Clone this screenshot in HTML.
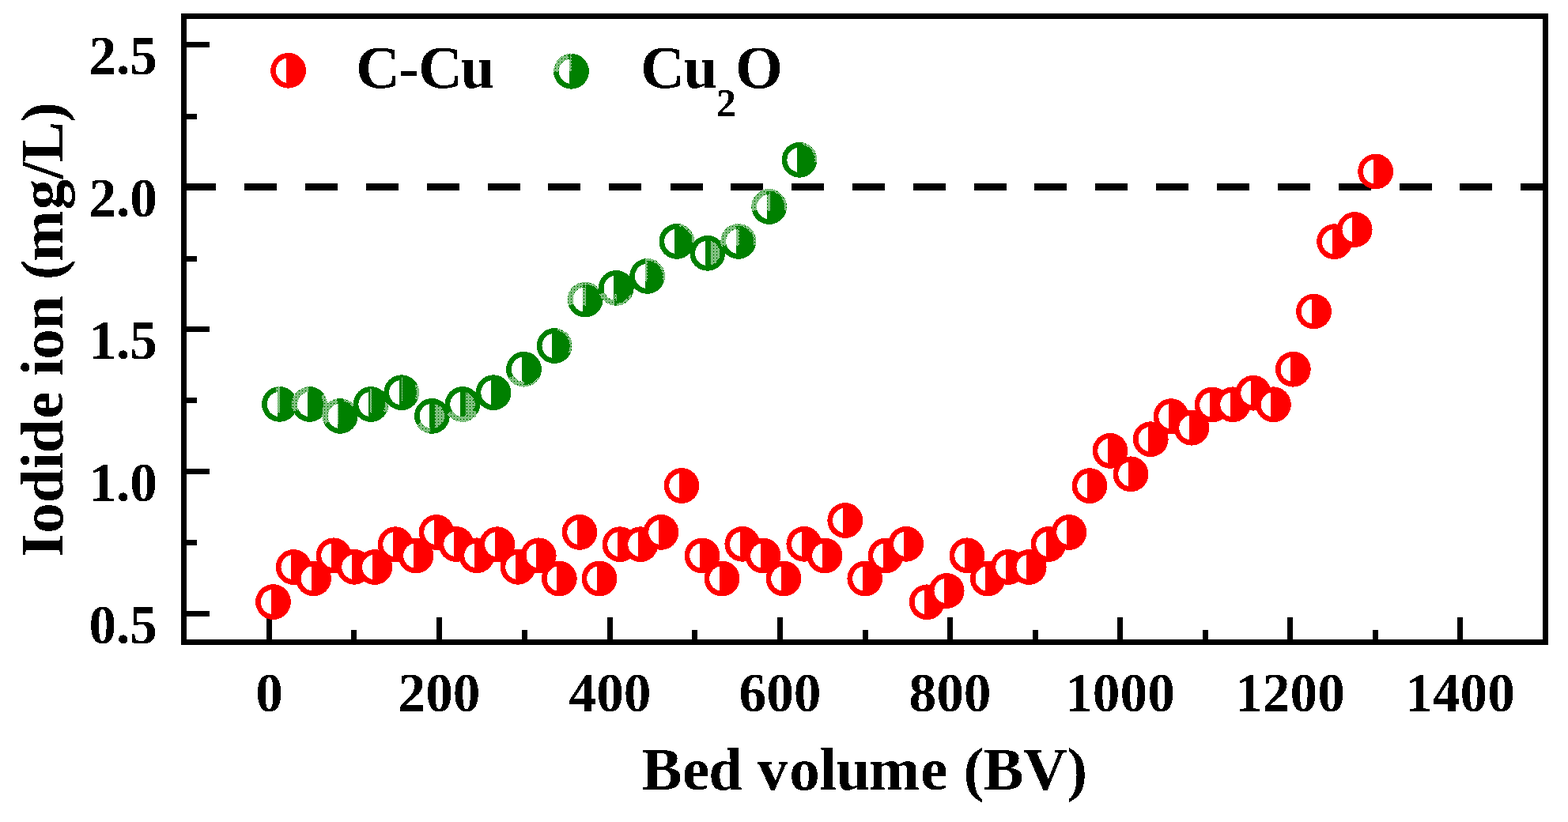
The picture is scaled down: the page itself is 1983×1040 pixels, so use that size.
<!DOCTYPE html>
<html><head><meta charset="utf-8"><title>Iodide ion vs Bed volume</title>
<style>html,body{margin:0;padding:0;background:#fff;}svg{display:block;}</style>
</head><body>
<svg width="1983" height="1040" viewBox="0 0 1983 1040">
<defs><filter id="bin" x="-5%" y="-5%" width="110%" height="110%" color-interpolation-filters="sRGB"><feComponentTransfer><feFuncA type="discrete" tableValues="0 1"/></feComponentTransfer></filter><pattern id="dith" patternUnits="userSpaceOnUse" x="0" y="0" width="4" height="4"><rect x="0" y="0" width="1" height="1" fill="#fff"/><rect x="2" y="0" width="1" height="1" fill="#fff"/><rect x="1" y="1" width="1" height="1" fill="#fff"/><rect x="3" y="1" width="1" height="1" fill="#fff"/><rect x="0" y="2" width="1" height="1" fill="#fff"/><rect x="1" y="3" width="1" height="1" fill="#fff"/><rect x="3" y="3" width="1" height="1" fill="#fff"/></pattern></defs>
<rect width="1983" height="1040" fill="#fff"/>
<g fill="#000" shape-rendering="crispEdges">
<rect x="236" y="53.0" width="29" height="7"/><rect x="236" y="233.0" width="29" height="7"/><rect x="236" y="413.0" width="29" height="7"/><rect x="236" y="593.0" width="29" height="7"/><rect x="236" y="773.0" width="29" height="7"/><rect x="236" y="144.0" width="13" height="7"/><rect x="236" y="324.0" width="13" height="7"/><rect x="236" y="503.0" width="13" height="7"/><rect x="236" y="683.0" width="13" height="7"/><rect x="337" y="781" width="7" height="28"/><rect x="552" y="781" width="7" height="28"/><rect x="768" y="781" width="7" height="28"/><rect x="983" y="781" width="7" height="28"/><rect x="1198" y="781" width="7" height="28"/><rect x="1413" y="781" width="7" height="28"/><rect x="1628" y="781" width="7" height="28"/><rect x="1843" y="781" width="7" height="28"/><rect x="444" y="797" width="7" height="12"/><rect x="660" y="797" width="7" height="12"/><rect x="875" y="797" width="7" height="12"/><rect x="1091" y="797" width="7" height="12"/><rect x="1306" y="797" width="7" height="12"/><rect x="1521" y="797" width="7" height="12"/><rect x="1736" y="797" width="7" height="12"/>
</g>
<g fill="#000" shape-rendering="crispEdges"><rect x="232" y="232" width="41" height="9"/><rect x="309" y="232" width="41" height="9"/><rect x="386" y="232" width="41" height="9"/><rect x="463" y="232" width="41" height="9"/><rect x="540" y="232" width="41" height="9"/><rect x="617" y="232" width="41" height="9"/><rect x="693" y="232" width="41" height="9"/><rect x="770" y="232" width="41" height="9"/><rect x="848" y="232" width="41" height="9"/><rect x="924" y="232" width="41" height="9"/><rect x="1001" y="232" width="41" height="9"/><rect x="1078" y="232" width="41" height="9"/><rect x="1155" y="232" width="41" height="9"/><rect x="1232" y="232" width="41" height="9"/><rect x="1308" y="232" width="41" height="9"/><rect x="1385" y="232" width="41" height="9"/><rect x="1462" y="232" width="41" height="9"/><rect x="1539" y="232" width="41" height="9"/><rect x="1616" y="232" width="41" height="9"/><rect x="1693" y="232" width="41" height="9"/><rect x="1770" y="232" width="41" height="9"/><rect x="1846" y="232" width="41" height="9"/><rect x="1923" y="232" width="31" height="9"/></g>
<rect x="232.5" y="20.5" width="1722.0" height="792.0" fill="none" stroke="#000" stroke-width="7" shape-rendering="crispEdges"/>
<g shape-rendering="crispEdges">
<circle cx="353.5" cy="511.4" r="22.4" fill="#008000"/><path d="M350.50 495.99A15.7 15.7 0 0 0 350.50 526.81Z" fill="#fff"/><path d="M349.00 488.80H354.00V522.00H349.00Z" fill="url(#dith)"/><circle cx="391.6" cy="511.5" r="22.4" fill="#008000"/><path d="M388.60 496.09A15.7 15.7 0 0 0 388.60 526.91Z" fill="#fff"/><path d="M389.61 488.79A22.8 22.8 0 0 0 370.94 521.14L377.82 517.92A15.2 15.2 0 0 1 390.28 496.36ZM412.26 521.14A22.8 22.8 0 0 0 410.05 498.10L405.76 501.21A17.5 17.5 0 0 1 407.46 518.90ZM388.00 497.50H389.20V525.70H388.00Z" fill="url(#dith)"/><circle cx="430.2" cy="526.4" r="22.4" fill="#008000"/><path d="M427.20 510.99A15.7 15.7 0 0 0 427.20 541.81Z" fill="#fff"/><path d="M426.24 503.95A22.8 22.8 0 0 0 409.89 536.75L416.66 533.30A15.2 15.2 0 0 1 427.56 511.43ZM447.67 511.74A22.8 22.8 0 0 0 434.16 503.95L433.59 507.20A19.5 19.5 0 0 1 445.14 513.87ZM426.90 511.00H428.00V537.40H426.90Z" fill="url(#dith)"/><circle cx="469.1" cy="511.5" r="22.4" fill="#008000"/><path d="M466.10 496.09A15.7 15.7 0 0 0 466.10 526.91Z" fill="#fff"/><path d="M468.40 492.00H469.60V522.00H468.40ZM489.23 522.20A22.8 22.8 0 0 0 491.68 508.33L486.92 508.99A18 18 0 0 1 484.99 519.95Z" fill="url(#dith)"/><circle cx="507.8" cy="496.7" r="22.4" fill="#008000"/><path d="M504.80 481.29A15.7 15.7 0 0 0 504.80 512.11Z" fill="#fff"/><path d="M507.50 477.00H508.70V507.00H507.50ZM528.63 505.97A22.8 22.8 0 0 0 527.55 485.30L524.25 487.20A19 19 0 0 1 525.16 504.43Z" fill="url(#dith)"/><circle cx="546.4" cy="526.4" r="22.4" fill="#008000"/><path d="M543.40 510.99A15.7 15.7 0 0 0 543.40 541.81Z" fill="#fff"/><path d="M549.70 511.05A15.7 15.7 0 0 1 549.70 541.75ZM526.65 537.80A22.8 22.8 0 0 0 543.23 548.98L544.28 541.45A15.2 15.2 0 0 1 533.24 534.00Z" fill="url(#dith)"/><circle cx="585.0" cy="511.5" r="22.4" fill="#008000"/><path d="M582.00 496.09A15.7 15.7 0 0 0 582.00 526.91Z" fill="#fff"/><path d="M589.00 496.32A15.7 15.7 0 0 1 589.00 526.68ZM565.66 523.58A22.8 22.8 0 0 0 604.75 522.90L598.16 519.10A15.2 15.2 0 0 1 572.11 519.55Z" fill="url(#dith)"/><circle cx="624.0" cy="496.7" r="22.4" fill="#008000"/><path d="M621.00 481.29A15.7 15.7 0 0 0 621.00 512.11Z" fill="#fff"/><circle cx="662.5" cy="467.3" r="22.4" fill="#008000"/><path d="M659.50 451.89A15.7 15.7 0 0 0 659.50 482.71Z" fill="#fff"/><path d="M642.75 478.70A22.8 22.8 0 0 0 663.30 490.09L663.03 482.49A15.2 15.2 0 0 1 649.34 474.90ZM663.30 490.09A22.8 22.8 0 0 0 682.25 478.70L679.82 477.30A20 20 0 0 1 663.20 487.29Z" fill="url(#dith)"/><circle cx="701.2" cy="437.5" r="22.4" fill="#008000"/><path d="M698.20 422.09A15.7 15.7 0 0 0 698.20 452.91Z" fill="#fff"/><path d="M721.86 447.14A22.8 22.8 0 0 0 705.16 415.05L704.59 418.30A19.5 19.5 0 0 1 718.87 445.74Z" fill="url(#dith)"/><circle cx="740.2" cy="379.1" r="22.4" fill="#008000"/><path d="M737.20 363.69A15.7 15.7 0 0 0 737.20 394.51Z" fill="#fff"/><path d="M740.20 356.30A22.8 22.8 0 0 0 718.78 386.90L725.92 384.30A15.2 15.2 0 0 1 740.20 363.90ZM758.17 365.06A22.8 22.8 0 0 0 740.20 356.30L740.20 359.60A19.5 19.5 0 0 1 755.57 367.09ZM736.50 360.40H740.60V386.60H736.50Z" fill="url(#dith)"/><circle cx="779.3" cy="364.4" r="22.4" fill="#008000"/><path d="M776.30 348.99A15.7 15.7 0 0 0 776.30 379.81Z" fill="#fff"/><path d="M757.88 372.20A22.8 22.8 0 0 0 780.10 387.19L779.83 379.59A15.2 15.2 0 0 1 765.02 369.60ZM780.10 387.19A22.8 22.8 0 0 0 800.13 373.67L797.11 372.33A19.5 19.5 0 0 1 779.98 383.89ZM777.30 372.00H780.00V386.60H777.30Z" fill="url(#dith)"/><circle cx="818.6" cy="349.4" r="22.4" fill="#008000"/><path d="M815.60 333.99A15.7 15.7 0 0 0 815.60 364.81Z" fill="#fff"/><path d="M815.80 326.90H819.10V356.30H815.80ZM840.40 356.07A22.8 22.8 0 0 0 819.40 326.61L819.28 329.91A19.5 19.5 0 0 1 837.25 355.10Z" fill="url(#dith)"/><circle cx="855.9" cy="305.4" r="22.4" fill="#008000"/><path d="M852.90 289.99A15.7 15.7 0 0 0 852.90 320.81Z" fill="#fff"/><path d="M878.61 307.39A22.8 22.8 0 0 0 859.86 282.95L859.29 286.20A19.5 19.5 0 0 1 875.33 307.10Z" fill="url(#dith)"/><circle cx="894.8" cy="320.3" r="22.4" fill="#008000"/><path d="M891.80 304.89A15.7 15.7 0 0 0 891.80 335.71Z" fill="#fff"/><path d="M898.70 305.09A15.7 15.7 0 0 1 898.70 335.51Z" fill="url(#dith)"/><circle cx="933.8" cy="305.4" r="22.4" fill="#008000"/><path d="M930.80 289.99A15.7 15.7 0 0 0 930.80 320.81Z" fill="#fff"/><path d="M933.80 282.60A22.8 22.8 0 0 0 912.00 312.07L919.26 309.84A15.2 15.2 0 0 1 933.80 290.20ZM931.00 286.00H935.00V311.00H931.00ZM955.92 310.92A22.8 22.8 0 0 0 934.99 282.63L934.82 285.93A19.5 19.5 0 0 1 952.72 310.12Z" fill="url(#dith)"/><circle cx="972.7" cy="261.5" r="22.4" fill="#008000"/><path d="M969.70 246.09A15.7 15.7 0 0 0 969.70 276.91Z" fill="#fff"/><path d="M972.70 238.70A22.8 22.8 0 0 0 950.68 267.40L958.02 265.43A15.2 15.2 0 0 1 972.70 246.30ZM969.30 241.50H974.30V266.80H969.30ZM994.82 267.02A22.8 22.8 0 0 0 973.50 238.71L973.38 242.01A19.5 19.5 0 0 1 991.62 266.22Z" fill="url(#dith)"/><circle cx="1011.1" cy="202.3" r="22.4" fill="#008000"/><path d="M1008.10 186.89A15.7 15.7 0 0 0 1008.10 217.71Z" fill="#fff"/><path d="M1033.73 205.08A22.8 22.8 0 0 0 1014.67 179.78L1014.15 183.04A19.5 19.5 0 0 1 1030.45 204.68Z" fill="url(#dith)"/>
<circle cx="345.5" cy="761.6" r="22.4" fill="#ff0000"/><path d="M342.50 746.19A15.7 15.7 0 0 0 342.50 777.01Z" fill="#fff"/><circle cx="371.2" cy="717.5" r="22.4" fill="#ff0000"/><path d="M368.20 702.09A15.7 15.7 0 0 0 368.20 732.91Z" fill="#fff"/><circle cx="396.5" cy="732.0" r="22.4" fill="#ff0000"/><path d="M393.50 716.59A15.7 15.7 0 0 0 393.50 747.41Z" fill="#fff"/><circle cx="422.0" cy="702.8" r="22.4" fill="#ff0000"/><path d="M419.00 687.39A15.7 15.7 0 0 0 419.00 718.21Z" fill="#fff"/><circle cx="448.0" cy="717.3" r="22.4" fill="#ff0000"/><path d="M445.00 701.89A15.7 15.7 0 0 0 445.00 732.71Z" fill="#fff"/><circle cx="473.8" cy="717.5" r="22.4" fill="#ff0000"/><path d="M470.80 702.09A15.7 15.7 0 0 0 470.80 732.91Z" fill="#fff"/><circle cx="500.0" cy="688.7" r="22.4" fill="#ff0000"/><path d="M497.00 673.29A15.7 15.7 0 0 0 497.00 704.11Z" fill="#fff"/><circle cx="526.0" cy="703.0" r="22.4" fill="#ff0000"/><path d="M523.00 687.59A15.7 15.7 0 0 0 523.00 718.41Z" fill="#fff"/><circle cx="552.0" cy="673.5" r="22.4" fill="#ff0000"/><path d="M549.00 658.09A15.7 15.7 0 0 0 549.00 688.91Z" fill="#fff"/><circle cx="577.0" cy="688.5" r="22.4" fill="#ff0000"/><path d="M574.00 673.09A15.7 15.7 0 0 0 574.00 703.91Z" fill="#fff"/><circle cx="603.0" cy="702.8" r="22.4" fill="#ff0000"/><path d="M600.00 687.39A15.7 15.7 0 0 0 600.00 718.21Z" fill="#fff"/><circle cx="628.8" cy="688.7" r="22.4" fill="#ff0000"/><path d="M625.80 673.29A15.7 15.7 0 0 0 625.80 704.11Z" fill="#fff"/><circle cx="655.0" cy="717.3" r="22.4" fill="#ff0000"/><path d="M652.00 701.89A15.7 15.7 0 0 0 652.00 732.71Z" fill="#fff"/><circle cx="681.2" cy="702.8" r="22.4" fill="#ff0000"/><path d="M678.20 687.39A15.7 15.7 0 0 0 678.20 718.21Z" fill="#fff"/><circle cx="707.3" cy="732.0" r="22.4" fill="#ff0000"/><path d="M704.30 716.59A15.7 15.7 0 0 0 704.30 747.41Z" fill="#fff"/><circle cx="733.0" cy="673.4" r="22.4" fill="#ff0000"/><path d="M730.00 657.99A15.7 15.7 0 0 0 730.00 688.81Z" fill="#fff"/><circle cx="758.0" cy="732.0" r="22.4" fill="#ff0000"/><path d="M755.00 716.59A15.7 15.7 0 0 0 755.00 747.41Z" fill="#fff"/><circle cx="784.0" cy="688.7" r="22.4" fill="#ff0000"/><path d="M781.00 673.29A15.7 15.7 0 0 0 781.00 704.11Z" fill="#fff"/><circle cx="810.0" cy="688.7" r="22.4" fill="#ff0000"/><path d="M807.00 673.29A15.7 15.7 0 0 0 807.00 704.11Z" fill="#fff"/><circle cx="836.0" cy="673.4" r="22.4" fill="#ff0000"/><path d="M833.00 657.99A15.7 15.7 0 0 0 833.00 688.81Z" fill="#fff"/><circle cx="862.0" cy="614.5" r="22.4" fill="#ff0000"/><path d="M859.00 599.09A15.7 15.7 0 0 0 859.00 629.91Z" fill="#fff"/><circle cx="888.0" cy="703.0" r="22.4" fill="#ff0000"/><path d="M885.00 687.59A15.7 15.7 0 0 0 885.00 718.41Z" fill="#fff"/><circle cx="913.0" cy="732.0" r="22.4" fill="#ff0000"/><path d="M910.00 716.59A15.7 15.7 0 0 0 910.00 747.41Z" fill="#fff"/><circle cx="938.8" cy="688.3" r="22.4" fill="#ff0000"/><path d="M935.80 672.89A15.7 15.7 0 0 0 935.80 703.71Z" fill="#fff"/><circle cx="965.0" cy="703.0" r="22.4" fill="#ff0000"/><path d="M962.00 687.59A15.7 15.7 0 0 0 962.00 718.41Z" fill="#fff"/><circle cx="991.0" cy="732.0" r="22.4" fill="#ff0000"/><path d="M988.00 716.59A15.7 15.7 0 0 0 988.00 747.41Z" fill="#fff"/><circle cx="1016.8" cy="688.3" r="22.4" fill="#ff0000"/><path d="M1013.80 672.89A15.7 15.7 0 0 0 1013.80 703.71Z" fill="#fff"/><circle cx="1043.0" cy="703.0" r="22.4" fill="#ff0000"/><path d="M1040.00 687.59A15.7 15.7 0 0 0 1040.00 718.41Z" fill="#fff"/><circle cx="1068.8" cy="658.5" r="22.4" fill="#ff0000"/><path d="M1065.80 643.09A15.7 15.7 0 0 0 1065.80 673.91Z" fill="#fff"/><circle cx="1093.8" cy="732.0" r="22.4" fill="#ff0000"/><path d="M1090.80 716.59A15.7 15.7 0 0 0 1090.80 747.41Z" fill="#fff"/><circle cx="1120.0" cy="703.0" r="22.4" fill="#ff0000"/><path d="M1117.00 687.59A15.7 15.7 0 0 0 1117.00 718.41Z" fill="#fff"/><circle cx="1145.8" cy="688.3" r="22.4" fill="#ff0000"/><path d="M1142.80 672.89A15.7 15.7 0 0 0 1142.80 703.71Z" fill="#fff"/><circle cx="1172.2" cy="761.8" r="22.4" fill="#ff0000"/><path d="M1169.20 746.39A15.7 15.7 0 0 0 1169.20 777.21Z" fill="#fff"/><circle cx="1197.2" cy="747.5" r="22.4" fill="#ff0000"/><path d="M1194.20 732.09A15.7 15.7 0 0 0 1194.20 762.91Z" fill="#fff"/><circle cx="1223.0" cy="702.8" r="22.4" fill="#ff0000"/><path d="M1220.00 687.39A15.7 15.7 0 0 0 1220.00 718.21Z" fill="#fff"/><circle cx="1249.2" cy="732.0" r="22.4" fill="#ff0000"/><path d="M1246.20 716.59A15.7 15.7 0 0 0 1246.20 747.41Z" fill="#fff"/><circle cx="1275.0" cy="717.5" r="22.4" fill="#ff0000"/><path d="M1272.00 702.09A15.7 15.7 0 0 0 1272.00 732.91Z" fill="#fff"/><circle cx="1301.2" cy="717.5" r="22.4" fill="#ff0000"/><path d="M1298.20 702.09A15.7 15.7 0 0 0 1298.20 732.91Z" fill="#fff"/><circle cx="1326.0" cy="688.5" r="22.4" fill="#ff0000"/><path d="M1323.00 673.09A15.7 15.7 0 0 0 1323.00 703.91Z" fill="#fff"/><circle cx="1352.0" cy="673.5" r="22.4" fill="#ff0000"/><path d="M1349.00 658.09A15.7 15.7 0 0 0 1349.00 688.91Z" fill="#fff"/><circle cx="1378.0" cy="614.6" r="22.4" fill="#ff0000"/><path d="M1375.00 599.19A15.7 15.7 0 0 0 1375.00 630.01Z" fill="#fff"/><circle cx="1404.0" cy="570.4" r="22.4" fill="#ff0000"/><path d="M1401.00 554.99A15.7 15.7 0 0 0 1401.00 585.81Z" fill="#fff"/><circle cx="1430.0" cy="599.8" r="22.4" fill="#ff0000"/><path d="M1427.00 584.39A15.7 15.7 0 0 0 1427.00 615.21Z" fill="#fff"/><circle cx="1455.2" cy="555.7" r="22.4" fill="#ff0000"/><path d="M1452.20 540.29A15.7 15.7 0 0 0 1452.20 571.11Z" fill="#fff"/><circle cx="1481.0" cy="526.6" r="22.4" fill="#ff0000"/><path d="M1478.00 511.19A15.7 15.7 0 0 0 1478.00 542.01Z" fill="#fff"/><circle cx="1507.0" cy="541.2" r="22.4" fill="#ff0000"/><path d="M1504.00 525.79A15.7 15.7 0 0 0 1504.00 556.61Z" fill="#fff"/><circle cx="1533.0" cy="512.0" r="22.4" fill="#ff0000"/><path d="M1530.00 496.59A15.7 15.7 0 0 0 1530.00 527.41Z" fill="#fff"/><circle cx="1559.0" cy="511.8" r="22.4" fill="#ff0000"/><path d="M1556.00 496.39A15.7 15.7 0 0 0 1556.00 527.21Z" fill="#fff"/><circle cx="1585.0" cy="497.2" r="22.4" fill="#ff0000"/><path d="M1582.00 481.79A15.7 15.7 0 0 0 1582.00 512.61Z" fill="#fff"/><circle cx="1610.4" cy="511.8" r="22.4" fill="#ff0000"/><path d="M1607.40 496.39A15.7 15.7 0 0 0 1607.40 527.21Z" fill="#fff"/><circle cx="1635.3" cy="467.2" r="22.4" fill="#ff0000"/><path d="M1632.30 451.79A15.7 15.7 0 0 0 1632.30 482.61Z" fill="#fff"/><circle cx="1661.5" cy="394.0" r="22.4" fill="#ff0000"/><path d="M1658.50 378.59A15.7 15.7 0 0 0 1658.50 409.41Z" fill="#fff"/><circle cx="1687.6" cy="305.7" r="22.4" fill="#ff0000"/><path d="M1684.60 290.29A15.7 15.7 0 0 0 1684.60 321.11Z" fill="#fff"/><circle cx="1713.2" cy="290.5" r="22.4" fill="#ff0000"/><path d="M1710.20 275.09A15.7 15.7 0 0 0 1710.20 305.91Z" fill="#fff"/><circle cx="1739.6" cy="217.0" r="22.4" fill="#ff0000"/><path d="M1736.60 201.59A15.7 15.7 0 0 0 1736.60 232.41Z" fill="#fff"/>
</g>
<g shape-rendering="crispEdges"><circle cx="364.6" cy="89.3" r="22.4" fill="#ff0000"/><path d="M361.60 73.89A15.7 15.7 0 0 0 361.60 104.71Z" fill="#fff"/>
<circle cx="722.5" cy="90.3" r="22.4" fill="#008000"/><path d="M719.50 74.89A15.7 15.7 0 0 0 719.50 105.71Z" fill="#fff"/><path d="M720.51 67.59A22.8 22.8 0 0 0 699.71 91.10L707.31 90.83A15.2 15.2 0 0 1 721.18 75.16ZM718.70 67.90H723.00V90.00H718.70Z" fill="url(#dith)"/></g>
<g font-family="'Liberation Serif', 'Times New Roman', serif" font-weight="bold" fill="#000" filter="url(#bin)">
<text x="199" y="93.9" text-anchor="end" font-size="69.3">2.5</text><text x="199" y="273.9" text-anchor="end" font-size="69.3">2.0</text><text x="199" y="453.9" text-anchor="end" font-size="69.3">1.5</text><text x="199" y="633.9" text-anchor="end" font-size="69.3">1.0</text><text x="199" y="813.9" text-anchor="end" font-size="69.3">0.5</text><text x="340.5" y="900" text-anchor="middle" font-size="69.3">0</text><text x="555.5" y="900" text-anchor="middle" font-size="69.3">200</text><text x="771.5" y="900" text-anchor="middle" font-size="69.3">400</text><text x="986.5" y="900" text-anchor="middle" font-size="69.3">600</text><text x="1201.5" y="900" text-anchor="middle" font-size="69.3">800</text><text x="1416.5" y="900" text-anchor="middle" font-size="69.3">1000</text><text x="1631.5" y="900" text-anchor="middle" font-size="69.3">1200</text><text x="1846.5" y="900" text-anchor="middle" font-size="69.3">1400</text>
<text x="811.30 862.99 896.36 939.18 957.75 998.30 1036.56 1057.39 1099.00 1164.14 1198.32 1218.58 1243.30 1294.05 1349.43" y="998.7" font-size="77">Bed volume (BV)</text>
<text transform="translate(79 417.3) rotate(-90)" x="-287.68 -257.55 -219.04 -176.08 -156.24 -112.41 -78.23 -58.28 -37.55 0.29 43.11 63.03 86.40 151.66 190.63 211.98 262.28" y="0" font-size="77">Iodide ion (mg/L)</text>
<text x="450.05 504.58 529.00 582.54" y="111.2" font-size="77">C-Cu</text>
<text x="810.1 864.54" y="111.2" font-size="77">Cu<tspan x="906" y="146.8" font-size="50">2</tspan><tspan x="930" y="111.2">O</tspan></text>
</g>
</svg>
</body></html>
